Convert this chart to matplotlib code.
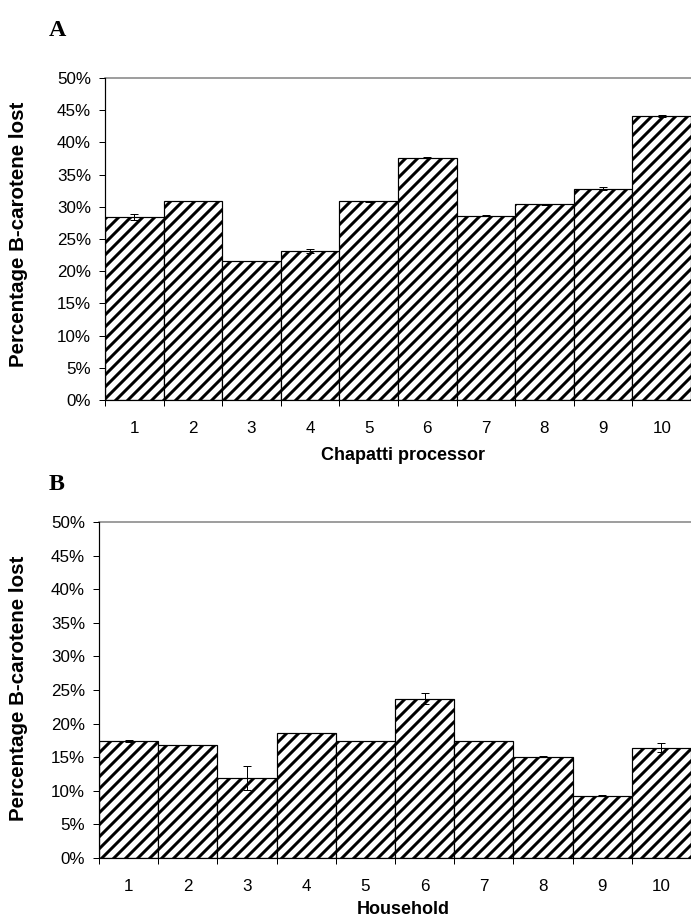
import numpy as np
import matplotlib.pyplot as plt
from matplotlib.ticker import FixedLocator

# data (percent lost)
positions = [1, 2, 3, 4, 5, 6, 7, 8, 9, 10]
tick_labels = ["1", "2", "3", "4", "5", "6", "7", "8", "9", "10"]

processor_loss = [28.4, 30.9, 21.6, 23.1, 30.85, 37.6, 28.6, 30.4, 32.8, 44.1]
processor_err = [0.5, 0.05, 0.05, 0.3, 0.05, 0.1, 0.05, 0.1, 0.2, 0.1]

household_loss = [17.4, 16.8, 11.9, 18.6, 17.4, 23.7, 17.4, 15.1, 9.3, 16.4]
household_err = [0.15, 0.05, 1.8, 0.05, 0.05, 0.85, 0.05, 0.05, 0.05, 0.7]

W, H = 691, 919
DPI = 72

plt.rcParams['font.family'] = ['Liberation Sans', 'DejaVu Sans']
plt.rcParams['hatch.linewidth'] = 3.0
plt.rcParams['hatch.color'] = 'black'

fig = plt.figure(figsize=(W / DPI, H / DPI), dpi=DPI)


def draw_panel(ax, values, errors, xlabel, xlabel_y, letter, letter_y, ylabel_y):
    ax.bar(positions, values, width=1.0, color='white', edgecolor='black',
           linewidth=1.2, hatch='//', zorder=2)
    ax.errorbar(positions, values, yerr=errors, fmt='none', ecolor='black',
                elinewidth=1.0, capsize=4, capthick=1.0, zorder=3)
    ax.set_xlim(0.5, 10.5)
    ax.set_ylim(0, 50)
    ax.set_yticks(np.arange(0, 51, 5))
    ax.set_yticklabels([f"{v}%" for v in range(0, 51, 5)], fontsize=17)
    ax.tick_params(axis='y', length=6, width=1, pad=8)

    # boundaries get the ticks, bar centres get the labels
    ax.xaxis.set_major_locator(FixedLocator(np.arange(0.5, 11, 1.0)))
    ax.xaxis.set_minor_locator(FixedLocator(positions))
    ax.tick_params(axis='x', which='major', length=6, width=1, labelbottom=False)
    ax.tick_params(axis='x', which='minor', length=0, pad=21, labelsize=17)
    ax.set_xticklabels(tick_labels, minor=True)

    for s in ['right', 'top']:
        ax.spines[s].set_visible(False)
    ax.spines['left'].set_linewidth(1.2)
    ax.spines['bottom'].set_linewidth(1.2)
    ax.axhline(50, color='#888888', linewidth=1.6, zorder=1, clip_on=False)

    fig.text(403 / W, 1 - xlabel_y / H, xlabel, ha='center', va='center',
             fontsize=18, fontweight='bold')
    fig.text(19 / W, 1 - ylabel_y / H, 'Percentage B-carotene lost',
             rotation=90, ha='center', va='center', fontsize=20.5, fontweight='bold')
    fig.text(57 / W, 1 - letter_y / H, letter, ha='center', va='center',
             fontsize=24, fontweight='bold', family='Liberation Serif')


ax_a = fig.add_axes([105 / W, 1 - 400 / H, (W - 105) / W, 322 / H])
draw_panel(ax_a, processor_loss, processor_err, 'Chapatti processor', 456, 'A', 31, 234)

ax_b = fig.add_axes([99 / W, 1 - 858 / H, (W - 99) / W, 336 / H])
draw_panel(ax_b, household_loss, household_err, 'Household', 910, 'B', 485, 688)

fig.savefig('out.png', dpi=DPI)
